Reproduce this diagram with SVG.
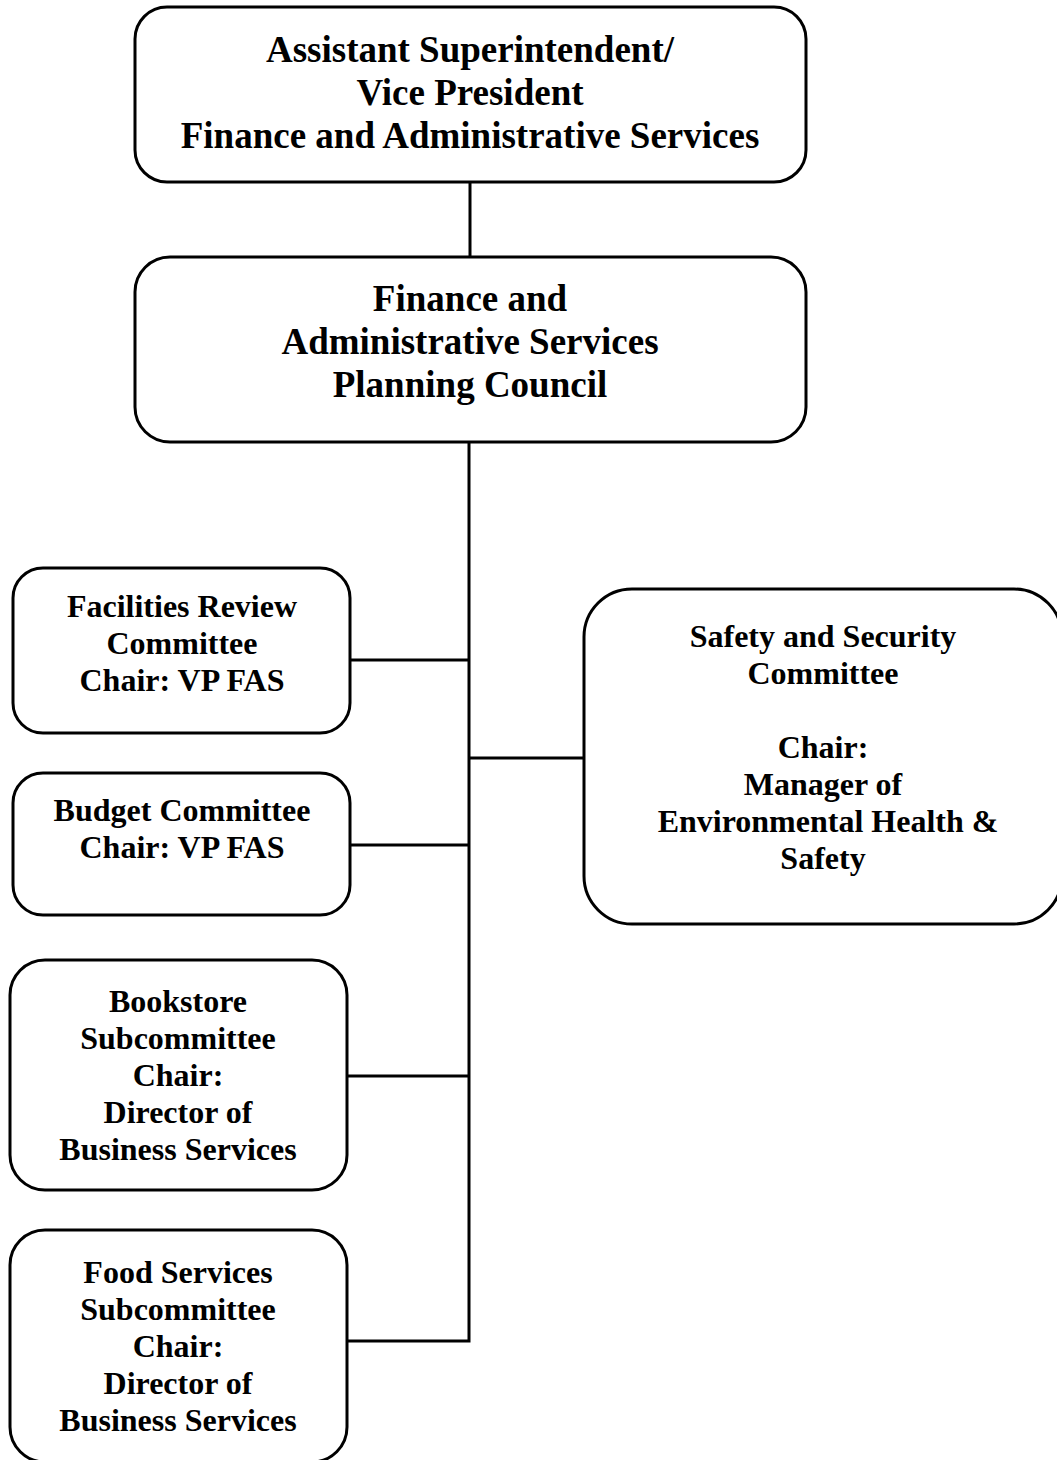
<svg xmlns="http://www.w3.org/2000/svg" width="1057" height="1460" viewBox="0 0 1057 1460">
<style>
.box{fill:#fff;stroke:#000;stroke-width:3}
.ln{stroke:#000;stroke-width:3;fill:none}
.big{font-family:"Liberation Serif","Times New Roman",serif;font-weight:bold;font-size:37px;text-anchor:middle;fill:#000}
.sm{font-family:"Liberation Serif","Times New Roman",serif;font-weight:bold;font-size:32px;text-anchor:middle;fill:#000}
</style>
<rect width="1057" height="1460" fill="#fff"/>
<g id="connectors">
<line class="ln" x1="470" y1="182" x2="470" y2="257"/>
<polyline class="ln" points="469,442 469,1341 347,1341"/>
<line class="ln" x1="350" y1="660" x2="469" y2="660"/>
<line class="ln" x1="469" y1="758" x2="584" y2="758"/>
<line class="ln" x1="350" y1="845" x2="469" y2="845"/>
<line class="ln" x1="347" y1="1076" x2="469" y2="1076"/>
</g>
<g id="vp">
<rect class="box" x="135" y="7" width="671" height="175" rx="32"/>
<text class="big" x="470" y="62">Assistant Superintendent/</text>
<text class="big" x="470" y="105">Vice President</text>
<text class="big" x="470" y="148">Finance and Administrative Services</text>
</g>
<g id="council">
<rect class="box" x="135" y="257" width="671" height="185" rx="35"/>
<text class="big" x="470" y="311">Finance and</text>
<text class="big" x="470" y="354">Administrative Services</text>
<text class="big" x="470" y="397">Planning Council</text>
</g>
<g id="facilities">
<rect class="box" x="13" y="568" width="337" height="165" rx="30"/>
<text class="sm" x="182" y="617">Facilities Review</text>
<text class="sm" x="182" y="654">Committee</text>
<text class="sm" x="182" y="691">Chair: VP FAS</text>
</g>
<g id="budget">
<rect class="box" x="13" y="773" width="337" height="142" rx="30"/>
<text class="sm" x="182" y="821">Budget Committee</text>
<text class="sm" x="182" y="858">Chair: VP FAS</text>
</g>
<g id="safety">
<rect class="box" x="584" y="589" width="478" height="335" rx="48"/>
<text class="sm" x="823" y="647">Safety and Security</text>
<text class="sm" x="823" y="684">Committee</text>
<text class="sm" x="823" y="758">Chair:</text>
<text class="sm" x="823" y="795">Manager of</text>
<text class="sm" x="828" y="832">Environmental Health &amp;</text>
<text class="sm" x="823" y="869">Safety</text>
</g>
<g id="bookstore">
<rect class="box" x="10" y="960" width="337" height="230" rx="35"/>
<text class="sm" x="178" y="1012">Bookstore</text>
<text class="sm" x="178" y="1049">Subcommittee</text>
<text class="sm" x="178" y="1086">Chair:</text>
<text class="sm" x="178" y="1123">Director of</text>
<text class="sm" x="178" y="1160">Business Services</text>
</g>
<g id="food">
<rect class="box" x="10" y="1230" width="337" height="232" rx="35"/>
<text class="sm" x="178" y="1283">Food Services</text>
<text class="sm" x="178" y="1320">Subcommittee</text>
<text class="sm" x="178" y="1357">Chair:</text>
<text class="sm" x="178" y="1394">Director of</text>
<text class="sm" x="178" y="1431">Business Services</text>
</g>
</svg>
